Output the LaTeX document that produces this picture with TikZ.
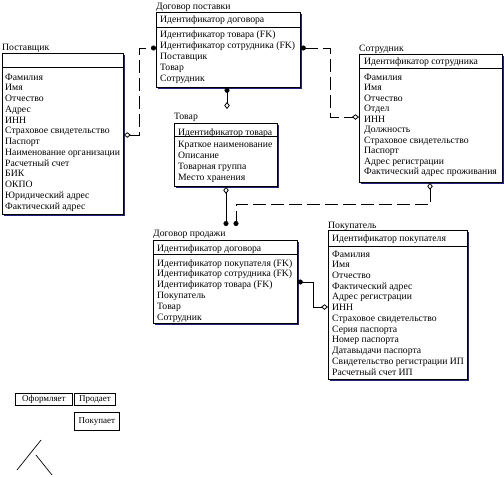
\documentclass[tikz,border=0pt]{standalone}
\usepackage{fontspec}
\setmainfont{Liberation Serif}
\usetikzlibrary{arrows.meta,calc}
\definecolor{shadowc}{RGB}{35,35,125}
\tikzset{
  txt/.style={anchor=base west, inner sep=0pt, font=\fontsize{9.7}{10}\selectfont},
  ent/.style={draw, line width=0.8pt, fill=white, inner sep=0pt, anchor=north west},
  divl/.style={line width=0.8pt},
  conn/.style={line width=0.8pt},
  dashc/.style={conn, dash pattern=on 13pt off 5pt},
  edot/.tip={Circle[length=5pt]},
  odia/.tip={Diamond[open, length=7pt, width=5.5pt]},
  legbox/.style={draw, line width=0.8pt, inner sep=0pt, anchor=north west, font=\fontsize{9}{10}\selectfont},
  legline/.style={line width=0.7pt}
}
\newcommand{\entbox}[6]{%
  \fill[shadowc] (#2+2,#3+2) rectangle (#4+2,#5+2);
  \node[ent, minimum width={#4-#2}, minimum height={#5-#3}] (#1) at (#2,#3) {};
  \draw[divl] (#2,#6) -- (#4,#6);
}
\begin{document}
\begin{tikzpicture}[x=1pt,y=-1pt]
\useasboundingbox (0,0) rectangle (504,477);

% Поставщик
\entbox{post}{2}{53}{123}{214}{67}
\node[txt] (post-t) at (2,50) {Поставщик};
\foreach \t [count=\i from 0] in {Фамилия,Имя,Отчество,Адрес,ИНН,Страховое свидетельство,Паспорт,Наименование организации,Расчетный счет,БИК,ОКПО,Юридический адрес,Фактический адрес}
  \node[txt] (post-\i) at (5,80+\i*10.75) {\t};

% Договор поставки
\entbox{dpost}{156}{12}{300}{87}{27}
\node[txt] (dpost-t) at (156,9) {Договор поставки};
\node[txt] (dpost-id) at (160,22) {Идентификатор договора};
\foreach \t [count=\i from 0] in {Идентификатор товара (FK),Идентификатор сотрудника (FK),Поставщик,Товар,Сотрудник}
  \node[txt] (dpost-\i) at (160,37+\i*11.2) {\t};

% Сотрудник
\entbox{sotr}{359}{54}{502}{182}{68}
\node[txt] (sotr-t) at (359,51) {Сотрудник};
\node[txt] (sotr-id) at (364,64) {Идентификатор сотрудника};
\foreach \t [count=\i from 0] in {Фамилия,Имя,Отчество,Отдел,ИНН,Должность,Страховое свидетельство,Паспорт,Адрес регистрации,Фактический адрес проживания}
  \node[txt] (sotr-\i) at (364,80+\i*10.55) {\t};

% Товар
\entbox{tov}{174}{123}{277}{186}{136}
\node[txt] (tov-t) at (174,119) {Товар};
\node[txt] (tov-id) at (178,135) {Идентификатор товара};
\foreach \t [count=\i from 0] in {Краткое наименование,Описание,Товарная группа,Место хранения}
  \node[txt] (tov-\i) at (178,147+\i*11.3) {\t};

% Договор продажи
\entbox{dprod}{153}{240}{297}{323}{254}
\node[txt] (dprod-t) at (153,236) {Договор продажи};
\node[txt] (dprod-id) at (157,251) {Идентификатор договора};
\foreach \t [count=\i from 0] in {Идентификатор покупателя (FK),Идентификатор сотрудника (FK),Идентификатор товара (FK),Покупатель,Товар,Сотрудник}
  \node[txt] (dprod-\i) at (157,266+\i*10.9) {\t};

% Покупатель
\entbox{pok}{328}{230}{467}{379}{246}
\node[txt] (pok-t) at (328,228) {Покупатель};
\node[txt] (pok-id) at (332,241) {Идентификатор покупателя};
\foreach \t [count=\i from 0] in {Фамилия,Имя,Отчество,Фактический адрес,Адрес регистрации,ИНН,Страховое свидетельство,Серия паспорта,Номер паспорта,Датавыдачи паспорта,Свидетельство регистрации ИП,Расчетный счет ИП}
  \node[txt] (pok-\i) at (332,257+\i*10.73) {\t};

% Connectors
\draw[dashc, {odia}-{edot}] ($(post.north east)+(0,82)$) -- ++(16,0) |- ($(dpost.north west)+(0,36)$);
\draw[dashc, {edot}-{odia}] ($(dpost.north east)+(0,36)$) -- ++(30,0) |- ($(sotr.north west)+(0,63)$);
\draw[conn, {edot}-{odia}] ($(dpost.south west)+(71,0)$) -- ($(tov.north west)+(53,-14)$);
\draw[conn, {odia}-{edot}] ($(tov.south west)+(52,0)$) -- ($(dprod.north west)+(73,-14)$);
\draw[dashc, {odia}-{edot}] ($(sotr.south west)+(71,0)$) -- ++(0,22) -| ($(dprod.north west)+(83,-14)$);
\draw[conn, {edot}-{odia}] ($(dprod.north east)+(0,42)$) -- ++(16,0) |- ($(pok.north west)+(0,77)$);

% Legend
\node[legbox, minimum width=57, minimum height=12] (leg1) at (15,393) {Оформляет};
\node[legbox, minimum width=41, minimum height=12] (leg2) at (74,393) {Продает};
\node[legbox, minimum width=45, minimum height=18] (leg3) at (74,412) {Покупает};
\coordinate (a1) at (41,440);
\coordinate (a2) at (17,470);
\coordinate (b1) at (36,455);
\coordinate (b2) at (52,475);
\draw[legline] (a1) -- (a2);
\draw[legline] (b1) -- (b2);
\end{tikzpicture}
\end{document}
